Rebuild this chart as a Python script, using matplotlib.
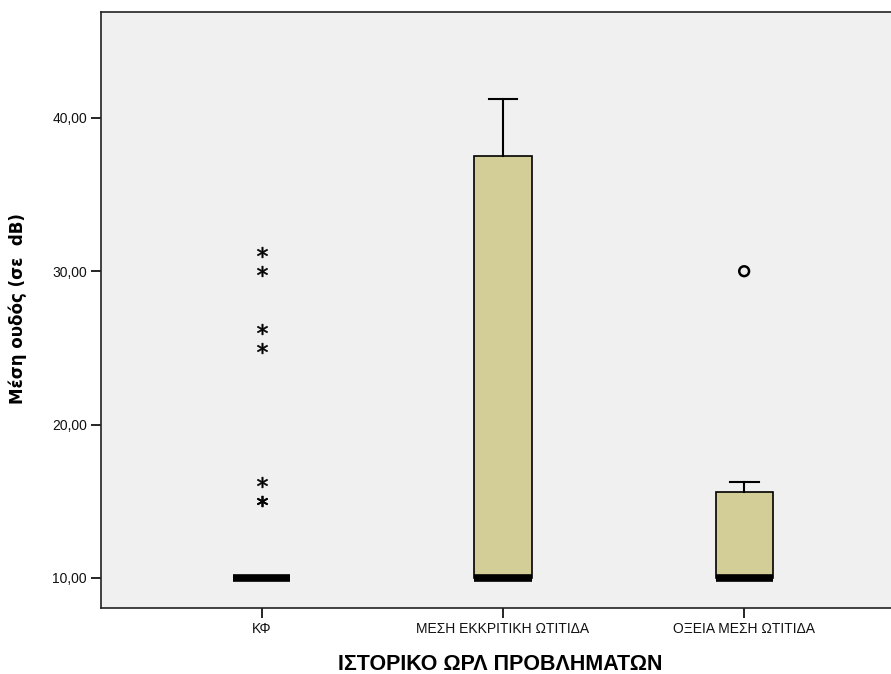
import matplotlib.pyplot as plt

plt.rcParams['font.family'] = ['Liberation Sans', 'DejaVu Sans']

groups = ['ΚΦ', 'ΜΕΣΗ ΕΚΚΡΙΤΙΚΗ ΩΤΙΤΙΔΑ', 'ΟΞΕΙΑ ΜΕΣΗ ΩΤΙΤΙΔΑ']
q1 = [10.0, 10.0, 10.0]
med = [10.0, 10.0, 10.0]
q3 = [10.0, 37.5, 15.6]
whislo = [10.0, 10.0, 10.0]
whishi = [10.0, 41.25, 16.25]
# SPSS extremes (stars) and outliers (circles)
extremes = [[31.25, 30.0, 26.25, 25.0, 16.25, 15.0, 15.0], [], []]
outliers = [[], [], [30.0]]
yticks = [10, 20, 30, 40]

W, H = 891, 674
fig = plt.figure(figsize=(W / 100, H / 100), dpi=100)
# plot area runs a bit past the right edge of the picture (cropped like the original)
ax = fig.add_axes([101 / W, 66 / H, 804 / W, 596 / H])
ax.set_facecolor('#f0f0f0')

stats = []
for i in range(3):
    stats.append(dict(q1=q1[i], med=med[i], q3=q3[i], whislo=whislo[i],
                      whishi=whishi[i], fliers=[], label=groups[i]))
ax.bxp(stats, positions=range(3), widths=0.237, capwidths=0.12,
       patch_artist=True, showfliers=False,
       boxprops=dict(facecolor='#d3ce97', edgecolor='black', linewidth=1.2),
       whiskerprops=dict(color='black', linewidth=1.5),
       capprops=dict(color='black', linewidth=1.5),
       medianprops=dict(color='black', linewidth=5.5, solid_capstyle='butt'))

for i in range(3):
    if extremes[i]:
        ax.scatter([i] * len(extremes[i]), extremes[i], marker='$*$',
                   s=60, color='black', linewidths=0.4, zorder=5)
    if outliers[i]:
        ax.scatter([i] * len(outliers[i]), outliers[i], marker='o', s=50,
                   facecolors='none', edgecolors='black', linewidths=1.8, zorder=5)

ax.set_xlim(-0.667, 2.667)
ax.set_ylim(8.04, 46.9)
ax.set_yticks(yticks)
ax.set_yticklabels(['%d,00' % v for v in yticks], fontsize=10, color='#111111')
ax.set_xticks(range(3))
ax.set_xticklabels(groups, fontsize=10, color='#111111')
ax.tick_params(axis='both', direction='out', length=7, width=1.2, pad=3)
for s in ['left', 'bottom', 'top', 'right']:
    ax.spines[s].set_linewidth(1.2)
    ax.spines[s].set_color('#222222')

fig.text(18 / W, 1 - 309 / H, 'Μέση ουδός (σε  dB)', rotation=90,
         ha='center', va='center', fontsize=12, fontweight='bold',
         family=['DejaVu Sans'])
fig.text(500 / W, 1 - 664 / H, 'ΙΣΤΟΡΙΚΟ ΩΡΛ ΠΡΟΒΛΗΜΑΤΩΝ', ha='center',
         va='center', fontsize=15.5, fontweight='bold')

fig.savefig('out.png', dpi=100)
